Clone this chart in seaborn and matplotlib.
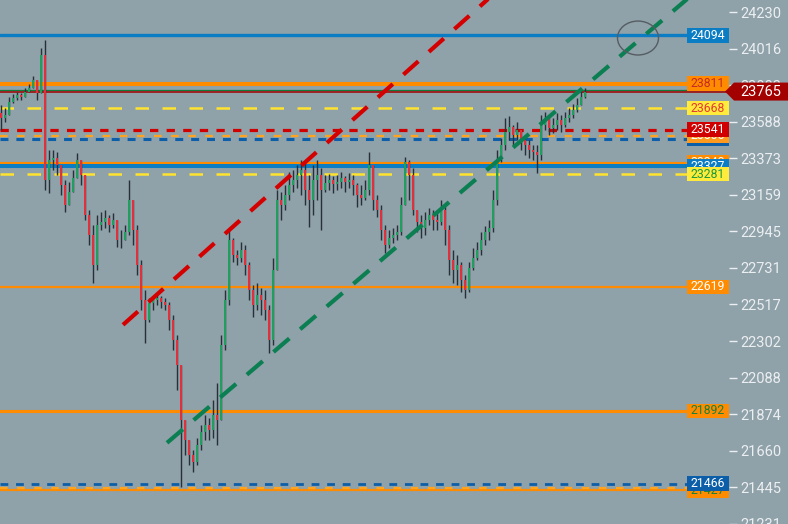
import numpy as np
import matplotlib
matplotlib.use("Agg")
import matplotlib.pyplot as plt
import matplotlib.transforms as mtransforms
from matplotlib.patches import Rectangle, Polygon, Ellipse
import seaborn as sns

# candle data, opens follow the previous close
first_open = 23640
closes = [23610, 23628, 23704, 23728, 23745, 23733, 23763, 23786, 23833, 23757,
          23980, 23247, 23364, 23376, 23335, 23218, 23100, 23177, 23259, 23364,
          23276, 23042, 22924, 22749, 22983, 23001, 23024, 22983, 23012, 22895,
          22895, 22942, 23130, 22954, 22749, 22543, 22426, 22526, 22543, 22555,
          22532, 22514, 22426, 22309, 22162, 21840, 21723, 21635, 21594, 21693,
          21770, 21811, 21781, 21869, 21840, 22280, 22543, 22895, 22807, 22790,
          22837, 22749, 22602, 22514, 22573, 22543, 22485, 22309, 22719, 23130,
          23100, 23159, 23218, 23247, 23276, 23305, 23188, 23130, 23247, 23276,
          23188, 23229, 23247, 23223, 23235, 23259, 23235, 23247, 23218, 23159,
          23141, 23188, 23335, 23130, 23071, 22954, 22866, 22907, 22924, 22942,
          23100, 23352, 23276, 23071, 23001, 22965, 23012, 23042, 23012, 23001,
          23071, 22954, 22778, 22719, 22749, 22661, 22602, 22731, 22790, 22837,
          22895, 22942, 22965, 23130, 23364, 23452, 23528, 23558, 23511, 23540,
          23481, 23452, 23423, 23411, 23393, 23569, 23610, 23552, 23569, 23599,
          23569, 23610, 23628, 23657, 23687, 23733, 23765]
highs = [23687, 23669, 23733, 23751, 23763, 23757, 23786, 23810, 23856, 23821,
         24021, 24067, 23423, 23423, 23411, 23335, 23247, 23235, 23305, 23405,
         23364, 23276, 23071, 22983, 23042, 23059, 23071, 23042, 23053, 23012,
         22954, 22983, 23247, 23100, 22983, 22778, 22602, 22555, 22567, 22579,
         22567, 22555, 22532, 22455, 22338, 22074, 21781, 21723, 21664, 21734,
         21811, 21869, 21852, 21957, 22057, 22338, 22602, 22954, 22907, 22837,
         22883, 22866, 22766, 22631, 22643, 22614, 22602, 22514, 22790, 23188,
         23177, 23218, 23294, 23305, 23335, 23364, 23352, 23276, 23335, 23364,
         23317, 23276, 23282, 23270, 23276, 23294, 23270, 23288, 23276, 23229,
         23218, 23247, 23411, 23305, 23159, 23100, 22983, 22954, 22965, 22983,
         23147, 23382, 23364, 23317, 23071, 23042, 23059, 23083, 23071, 23059,
         23130, 23100, 22983, 22837, 22807, 22766, 22690, 22766, 22848, 22883,
         22942, 22977, 23012, 23188, 23423, 23493, 23610, 23622, 23569, 23587,
         23540, 23511, 23481, 23452, 23452, 23628, 23645, 23610, 23610, 23640,
         23628, 23645, 23669, 23692, 23728, 23774, 23786]
lows = [23540, 23587, 23675, 23698, 23716, 23716, 23733, 23763, 23786, 23716,
        23757, 23188, 23171, 23305, 23276, 23159, 23059, 23130, 23218, 23305,
        23218, 23012, 22866, 22643, 22719, 22954, 22965, 22942, 22965, 22854,
        22848, 22895, 22924, 22866, 22690, 22485, 22291, 22414, 22485, 22514,
        22497, 22485, 22368, 22250, 22016, 21447, 21635, 21576, 21535, 21576,
        21664, 21723, 21723, 21734, 21693, 21840, 22250, 22514, 22766, 22749,
        22766, 22690, 22543, 22444, 22485, 22455, 22426, 22233, 22280, 22749,
        23012, 23071, 23130, 23177, 23200, 23159, 23100, 22971, 23042, 23130,
        22954, 23177, 23188, 23171, 23188, 23200, 23177, 23200, 23159, 23089,
        23100, 23130, 23159, 23071, 23030, 22895, 22819, 22848, 22878, 22895,
        22924, 23100, 23130, 23042, 22942, 22907, 22924, 22983, 22954, 22954,
        22983, 22866, 22690, 22643, 22631, 22590, 22555, 22590, 22719, 22778,
        22807, 22866, 22895, 22942, 23100, 23352, 23423, 23481, 23452, 23481,
        23423, 23393, 23376, 23364, 23288, 23364, 23540, 23511, 23522, 23540,
        23528, 23558, 23587, 23610, 23645, 23692, 23728]

# horizontal levels
solid_levels = [24094, 23811, 23348, 23327, 22619, 21892, 21427]
solid_colors = ["#0b7dc4", "#ff8c00", "#ff8c00", "#0b7dc4", "#ff8c00", "#ff8c00", "#ff8c00"]
solid_widths = [2.4, 2.9, 1.5, 2.9, 1.6, 2.2, 1.6]

dash_levels = [23668, 23541, 23505, 23489, 23281, 21466, 21441]
dash_colors = ["#ffe32e", "#d00000", "#ffa41c", "#0d5ea8", "#ffe32e", "#0d5ea8", "#ffa41c"]
dash_widths = [1.8, 2.3, 1.6, 2.2, 1.8, 2.0, 1.6]
dash_styles = [(0, (5.4, 5.4)), (0, (2.6, 2.6)), (0, (3.4, 4.3)), (0, (2.6, 2.6)),
               (0, (5.4, 5.4)), (0, (2.8, 2.8)), (0, (3.4, 4.3))]

# right side label boxes (later ones sit on top)
box_levels = [24094, 23811, 23668, 23489, 23505, 23541, 23348, 23327, 23281,
              22619, 21892, 21427, 21466]
box_texts = ["24094", "23811", "23668", "23489", "23505", "23541", "23348", "23327",
             "23281", "22619", "21892", "21427", "21466"]
box_bg = ["#0b7dc4", "#ff8c00", "#ffeb3b", "#0d5ea8", "#ff9a1f", "#d00000", "#ff8c00",
          "#0b7dc4", "#ffeb3b", "#ff8c00", "#ff8c00", "#ff8c00", "#0d5ea8"]
box_fg = ["white", "#c62828", "#e53935", "white", "white", "white", "white",
          "white", "#1b9a3e", "white", "#16803c", "#16803c", "white"]

last_price = 23765

# trend lines (start / end)
red_trend_x = [30.5, 130]
red_trend_y = [22397, 24480]
green_trend_x = [41.5, 175]
green_trend_y = [21705, 24377]

yticks = [24230, 24016, 23802, 23588, 23373, 23159, 22945, 22731, 22517,
          22302, 22088, 21874, 21660, 21445, 21231]

bg = "#8fa1a9"
sns.set_theme(style="dark", rc={"axes.facecolor": bg, "figure.facecolor": bg})
plt.rcParams["font.family"] = ["Roboto", "DejaVu Sans"]

fig = plt.figure(figsize=(7.88, 5.24), dpi=100)
ax = fig.add_axes([0, 0, 729 / 788, 1])
ax.set_facecolor(bg)

x = np.arange(len(closes))
opens = [first_open] + closes[:-1]
o = np.array(opens, dtype=float)
c = np.array(closes, dtype=float)
h = np.maximum(np.array(highs, dtype=float), np.maximum(o, c))
l = np.minimum(np.array(lows, dtype=float), np.minimum(o, c))
up = c >= o

# candles
ax.vlines(x, l, h, color="#263036", lw=1.0, zorder=3)
ax.bar(x, c - o, bottom=o, width=0.5, color=np.where(up, "#1f9e5e", "#e0303c"),
       linewidth=0, zorder=4)

# levels
for lv, col, lw in zip(solid_levels, solid_colors, solid_widths):
    ax.axhline(lv, xmin=0, xmax=687 / 729, color=col, lw=lw, zorder=2)
for lv, col, lw, ls in zip(dash_levels, dash_colors, dash_widths, dash_styles):
    ax.axhline(lv, xmin=0, xmax=687 / 729, color=col, lw=lw, linestyle=ls, zorder=2)

# last price lines
ax.axhline(last_price + 7, color="#0f7a3a", lw=0.9, zorder=2)
ax.axhline(last_price, color="#a00000", lw=1.1, zorder=2)

# trend lines
sns.lineplot(x=red_trend_x, y=red_trend_y, ax=ax, color="#d40000", lw=3.0,
             linestyle=(0, (4.8, 3.4)), zorder=5)
sns.lineplot(x=green_trend_x, y=green_trend_y, ax=ax, color="#0b7f52", lw=3.0,
             linestyle=(0, (5.0, 3.4)), zorder=5)

# circle mark
ax.add_patch(Ellipse((159.25, 24079), 10.25, 199, fill=False, edgecolor="#555d62",
                     lw=1.0, zorder=6))

ax.set_xlim(-0.25, 182.0)
ax.set_ylim(21229, 24302)

# level label boxes
bt = mtransforms.blended_transform_factory(ax.transAxes, ax.transData)
half = 7.3 * 5.862
for i, (lv, t, b, f) in enumerate(zip(box_levels, box_texts, box_bg, box_fg)):
    z = 7 + 2 * i
    ax.add_patch(Rectangle((687 / 729, lv - half), 42 / 729, 2 * half, transform=bt,
                           facecolor=b, edgecolor="none", clip_on=False, zorder=z))
    ax.text(708 / 729, lv, t, transform=bt, ha="center", va="center", fontsize=8.8,
            color=f, zorder=z + 1, clip_on=False)

# last price tag
ft = mtransforms.blended_transform_factory(fig.transFigure, ax.transData)
ph = 9 * 5.862
tag = Polygon([(725 / 788, last_price), (734 / 788, last_price + ph), (1.0, last_price + ph),
               (1.0, last_price - ph), (734 / 788, last_price - ph)], closed=True,
              transform=ft, facecolor="#a30000", edgecolor="none", clip_on=False, zorder=40)
ax.add_patch(tag)
ax.text(761 / 788, last_price, str(last_price), transform=ft, ha="center", va="center",
        fontsize=10.5, color="white", zorder=41, clip_on=False)

# axis
ax.yaxis.tick_right()
ax.set_yticks(yticks)
ax.set_yticklabels([str(v) for v in yticks])
ax.tick_params(axis="y", colors="#eceff1", labelsize=10.5, length=6, width=1, pad=2)
ax.set_xticks([])
ax.grid(False)
for s in ax.spines.values():
    s.set_visible(False)

fig.savefig("out.png", dpi=100, facecolor=bg)
